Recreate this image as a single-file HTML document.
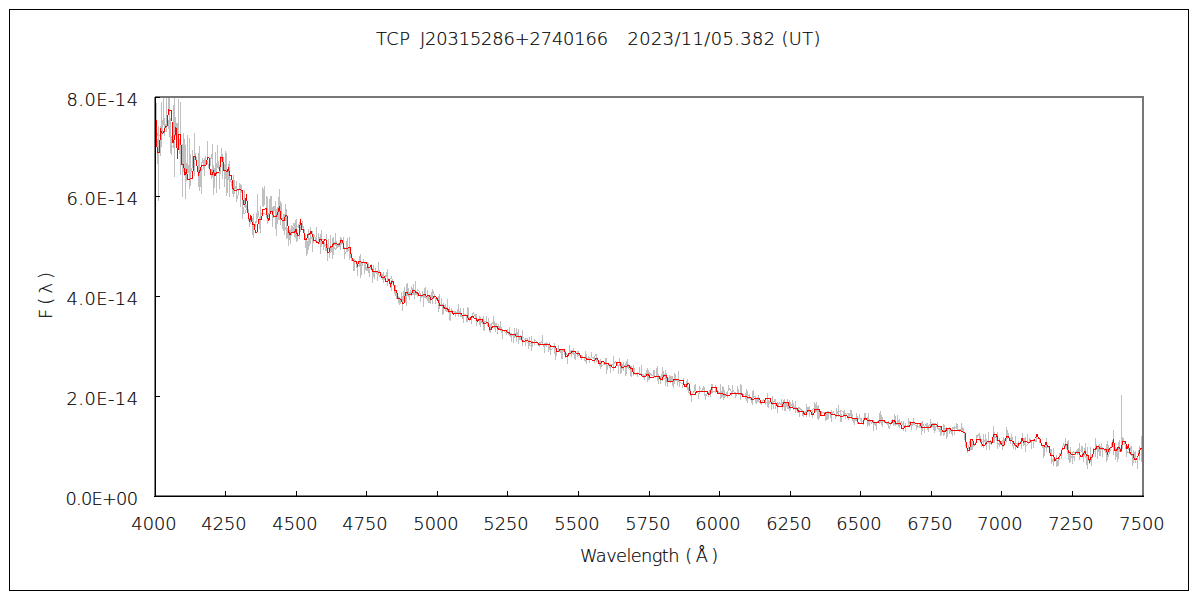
<!DOCTYPE html>
<html><head><meta charset="utf-8"><style>
html,body{margin:0;padding:0;background:#fff;}
svg{display:block;}
text{font-family:"DejaVu Sans","Noto Sans CJK JP",sans-serif;font-weight:200;font-size:17.8px;fill:#000;stroke:#000;stroke-width:0.2px;white-space:pre;}
</style></head><body>
<svg width="1200" height="600" viewBox="0 0 1200 600">
<rect x="0" y="0" width="1200" height="600" fill="#fff"/>
<rect x="9.5" y="9.5" width="1179" height="581" fill="none" stroke="#000" stroke-width="1"/>
<defs><clipPath id="pc"><rect x="155" y="97" width="988" height="399"/></clipPath></defs>
<g clip-path="url(#pc)" fill="none" shape-rendering="crispEdges">
<path d="M155.5,124V169M156.5,103V146M157.5,139V164M158.5,126V201M160.5,126V156M161.5,102V147M162.5,120V134M163.5,97V125M164.5,118V136M166.5,97V132M168.5,97V115M169.5,97V131M170.5,118V153M171.5,136V155M173.5,105V148M174.5,97V177M175.5,122V136M177.5,123V150M178.5,99V142M179.5,139V154M180.5,102V175M182.5,144V197M183.5,133V172M184.5,139V176M185.5,145V199M186.5,167V181M187.5,135V173M189.5,138V189M190.5,154V186M192.5,150V166M194.5,133V176M195.5,157V159M198.5,153V187M199.5,146V191M200.5,173V187M201.5,162V194M202.5,158V163M203.5,160V168M204.5,158V176M205.5,156V165M207.5,141V160M211.5,169V179M212.5,144V177M213.5,165V195M214.5,168V188M215.5,152V174M216.5,163V193M217.5,145V168M218.5,161V169M219.5,168V189M220.5,166V174M221.5,148V162M222.5,158V179M223.5,159V163M224.5,167V187M225.5,151V176M226.5,153V196M227.5,171V193M228.5,164V180M229.5,161V197M233.5,175V194M234.5,180V191M236.5,181V202M239.5,183V188M240.5,184V207M241.5,186V192M242.5,201V219M244.5,190V207M245.5,199V208M249.5,218V224M250.5,217V221M252.5,218V235M253.5,214V238M256.5,219V223M257.5,194V219M259.5,217V229M260.5,206V233M262.5,187V206M263.5,189V207M264.5,186V205M266.5,196V217M267.5,197V224M269.5,199V216M270.5,196V211M271.5,196V211M272.5,207V227M273.5,206V218M274.5,206V211M275.5,201V229M276.5,209V236M277.5,207V224M278.5,197V220M279.5,189V220M280.5,202V225M281.5,203V217M282.5,217V229M283.5,214V231M284.5,214V235M285.5,204V221M286.5,209V239M287.5,228V238M288.5,230V246M289.5,230V240M290.5,229V244M291.5,225V234M293.5,227V232M294.5,223V237M295.5,220V238M296.5,219V242M297.5,232V241M298.5,224V228M299.5,222V239M300.5,224V232M301.5,223V226M302.5,221V228M305.5,237V248M306.5,239V256M307.5,241V254M308.5,229V250M309.5,238V246M310.5,227V244M311.5,237V239M312.5,231V252M313.5,235V243M315.5,238V242M316.5,227V242M318.5,233V241M319.5,237V242M320.5,234V254M321.5,230V247M322.5,242V244M323.5,240V250M324.5,244V246M325.5,244V246M326.5,234V251M327.5,246V261M328.5,239V249M329.5,247V258M330.5,235V253M331.5,246V252M332.5,238V259M333.5,237V255M334.5,242V245M335.5,233V246M336.5,241V249M337.5,244V247M338.5,243V246M339.5,242V245M340.5,237V250M341.5,238V245M343.5,237V247M344.5,251V259M345.5,252V253M346.5,241V248M347.5,238V252M349.5,237V260M350.5,250V257M351.5,253V260M353.5,259V271M354.5,259V271M356.5,261V268M357.5,262V276M359.5,256V267M360.5,254V278M361.5,262V275M362.5,264V266M364.5,262V274M365.5,263V270M366.5,267V271M367.5,262V271M368.5,263V273M369.5,269V277M371.5,266V269M372.5,269V283M373.5,265V274M374.5,272V279M375.5,272V273M377.5,272V281M378.5,262V275M379.5,275V277M380.5,275V277M382.5,274V279M383.5,272V280M386.5,272V277M387.5,269V286M388.5,279V280M390.5,282V288M391.5,280V291M393.5,281V285M394.5,286V294M395.5,285V296M396.5,293V299M397.5,293V299M398.5,296V303M399.5,297V305M400.5,298V304M401.5,292V301M402.5,296V311M403.5,291V302M404.5,287V302M405.5,294V302M406.5,284V306M407.5,283V296M408.5,288V294M409.5,292V294M410.5,292V293M411.5,291V296M412.5,288V295M413.5,284V295M414.5,290V299M415.5,281V293M416.5,293V295M417.5,293V297M420.5,295V302M422.5,291V297M423.5,294V307M424.5,288V298M425.5,287V297M427.5,290V301M428.5,296V303M429.5,298V303M430.5,295V304M431.5,292V298M432.5,289V304M433.5,296V299M435.5,298V304M438.5,296V312M439.5,294V309M441.5,298V305M442.5,305V315M443.5,303V314M445.5,304V308M446.5,307V312M447.5,299V312M449.5,307V320M450.5,312V321M451.5,308V313M454.5,312V314M455.5,311V317M457.5,309V314M458.5,304V317M459.5,312V314M460.5,308V317M462.5,315V319M463.5,308V323M466.5,315V322M467.5,307V322M468.5,308V319M469.5,317V319M471.5,317V324M472.5,313V318M473.5,317V318M475.5,314V319M476.5,314V326M477.5,319V320M479.5,316V325M480.5,317V327M481.5,320V323M482.5,318V324M483.5,316V330M484.5,321V331M486.5,316V324M487.5,322V325M488.5,318V326M489.5,326V332M490.5,325V333M491.5,325V330M493.5,316V325M494.5,321V329M495.5,323V332M496.5,323V328M497.5,328V334M498.5,324V329M499.5,326V330M500.5,321V331M501.5,327V333M502.5,329V339M506.5,330V335M507.5,329V332M509.5,327V334M510.5,333V335M511.5,333V342M513.5,334V343M514.5,328V338M515.5,333V337M516.5,328V342M517.5,332V337M518.5,329V344M519.5,336V340M520.5,335V339M522.5,330V346M523.5,337V338M525.5,338V346M526.5,340V342M527.5,342V343M528.5,341V349M529.5,337V344M530.5,343V344M531.5,336V351M532.5,341V347M534.5,339V345M535.5,340V341M538.5,343V346M539.5,342V347M540.5,345V345M542.5,335V345M543.5,344V347M544.5,343V353M545.5,344V346M546.5,342V347M548.5,345V352M549.5,342V348M550.5,347V355M554.5,343V354M555.5,351V360M556.5,349V356M558.5,345V351M560.5,350V353M561.5,349V359M562.5,350V359M563.5,350V352M564.5,349V355M565.5,353V358M567.5,354V364M569.5,345V352M570.5,350V353M571.5,350V357M572.5,350V351M573.5,348V353M574.5,353V359M575.5,353V360M577.5,351V357M578.5,351V356M579.5,354V356M581.5,356V360M584.5,357V361M585.5,351V359M586.5,354V364M588.5,356V358M589.5,357V363M591.5,352V358M594.5,357V363M596.5,354V362M597.5,359V362M599.5,361V364M600.5,359V369M601.5,362V366M603.5,361V363M605.5,358V363M606.5,358V374M607.5,366V370M609.5,366V368M610.5,365V373M613.5,356V371M616.5,363V364M617.5,362V365M618.5,365V374M619.5,358V366M620.5,366V374M621.5,363V373M622.5,365V369M623.5,362V371M625.5,363V376M626.5,361V374M627.5,359V368M628.5,364V369M630.5,366V376M631.5,366V377M633.5,365V376M634.5,368V373M637.5,372V377M639.5,367V374M641.5,365V375M642.5,374V377M643.5,374V377M644.5,375V380M645.5,373V377M646.5,370V376M647.5,368V382M648.5,370V380M649.5,372V380M653.5,370V377M654.5,370V377M656.5,368V376M657.5,366V381M658.5,375V384M660.5,376V384M661.5,374V376M662.5,367V381M663.5,371V375M664.5,374V377M665.5,370V386M666.5,373V382M667.5,377V387M668.5,378V381M669.5,375V382M670.5,376V383M671.5,376V381M672.5,376V386M673.5,380V388M674.5,373V384M675.5,374V381M676.5,380V381M677.5,380V386M678.5,371V380M679.5,380V387M682.5,385V388M683.5,378V385M684.5,384V386M686.5,381V385M687.5,379V389M688.5,387V393M689.5,392V394M690.5,389V396M691.5,394V402M694.5,385V392M695.5,384V391M698.5,393V399M699.5,386V394M700.5,388V389M704.5,387V396M705.5,394V400M706.5,394V396M708.5,393V397M709.5,390V394M710.5,389V397M711.5,384V393M712.5,384V393M715.5,385V392M718.5,391V394M720.5,384V399M721.5,393V398M722.5,386V396M723.5,387V400M724.5,390V397M725.5,394V397M726.5,393V396M727.5,391V398M728.5,385V390M731.5,391V396M732.5,385V394M735.5,392V398M736.5,393V396M737.5,386V394M738.5,389V395M740.5,384V400M741.5,385V394M743.5,395V397M745.5,393V396M746.5,389V401M747.5,391V403M748.5,397V399M749.5,394V399M751.5,397V401M752.5,391V405M753.5,390V398M755.5,397V403M756.5,398V404M757.5,397V401M758.5,395V402M759.5,401V403M760.5,402V404M765.5,399V405M766.5,399V399M767.5,393V407M768.5,400V408M769.5,401V404M771.5,403V410M772.5,396V405M773.5,401V409M774.5,399V402M775.5,399V409M777.5,402V413M781.5,399V407M782.5,403V410M783.5,401V407M784.5,399V411M785.5,402V411M786.5,403V407M787.5,399V409M788.5,405V409M789.5,400V407M790.5,402V410M792.5,400V408M793.5,403V410M795.5,401V413M798.5,407V413M799.5,410V417M801.5,409V411M802.5,410V416M803.5,411V414M806.5,404V417M807.5,407V412M808.5,407V412M809.5,406V417M812.5,410V418M814.5,402V411M815.5,404V412M816.5,402V411M817.5,406V419M818.5,405V420M819.5,411V418M820.5,413V413M821.5,411V416M825.5,413V421M826.5,413V420M827.5,411V420M828.5,411V419M830.5,412V418M831.5,410V422M835.5,414V419M836.5,408V417M837.5,411V412M838.5,405V417M840.5,411V422M841.5,414V422M843.5,413V417M844.5,410V415M845.5,413V419M846.5,414V415M848.5,414V420M849.5,413V417M850.5,410V414M851.5,410V419M852.5,414V419M853.5,419V422M854.5,419V425M855.5,418V420M856.5,413V421M857.5,416V424M859.5,414V419M860.5,418V421M861.5,418V424M863.5,418V425M864.5,413V420M865.5,413V420M867.5,417V427M868.5,413V425M869.5,420V426M873.5,420V431M874.5,423V425M875.5,422V424M876.5,422V430M877.5,421V422M878.5,420V421M879.5,413V424M880.5,411V423M881.5,415V425M882.5,417V427M884.5,421V423M886.5,425V425M887.5,424V425M888.5,421V428M891.5,422V424M892.5,419V423M893.5,421V426M894.5,414V425M895.5,416V426M896.5,423V424M897.5,415V425M898.5,420V427M899.5,419V428M903.5,421V431M904.5,425V428M905.5,423V432M907.5,424V424M908.5,418V427M909.5,422V424M910.5,421V425M911.5,424V430M913.5,418V425M916.5,426V430M917.5,424V428M919.5,423V428M920.5,426V427M921.5,422V435M922.5,421V431M923.5,424V426M924.5,426V433M926.5,423V428M927.5,423V429M928.5,425V432M930.5,419V426M932.5,423V427M933.5,424V430M934.5,424V433M935.5,426V431M937.5,422V429M939.5,428V432M940.5,426V436M941.5,431V435M943.5,424V436M944.5,425V435M945.5,428V432M946.5,427V439M947.5,430V437M949.5,427V434M950.5,429V432M951.5,429V434M952.5,427V436M954.5,426V435M956.5,423V429M957.5,424V430M959.5,429V431M961.5,423V432M962.5,427V432M964.5,432V439M965.5,436V445M969.5,441V443M970.5,441V450M971.5,441V450M972.5,440V450M973.5,444V444M975.5,443V445M976.5,435V443M977.5,435V436M979.5,435V441M980.5,439V443M981.5,442V447M983.5,434V448M984.5,440V442M985.5,434V444M986.5,439V450M988.5,432V443M989.5,441V450M990.5,440V444M991.5,443V445M992.5,438V441M993.5,426V443M994.5,432V443M996.5,438V441M997.5,432V449M999.5,438V446M1002.5,441V450M1003.5,437V447M1004.5,439V446M1005.5,438V440M1006.5,427V442M1007.5,430V437M1008.5,433V438M1010.5,438V444M1011.5,434V441M1012.5,437V442M1015.5,436V450M1017.5,443V445M1018.5,441V448M1021.5,442V449M1022.5,433V441M1023.5,438V446M1024.5,438V442M1025.5,437V452M1027.5,434V443M1029.5,438V441M1030.5,439V443M1031.5,440V449M1033.5,439V448M1036.5,437V442M1039.5,439V443M1043.5,446V458M1044.5,448V456M1046.5,438V452M1047.5,445V448M1051.5,449V464M1053.5,448V466M1056.5,455V467M1057.5,461V466M1058.5,459V466M1059.5,453V460M1061.5,451V459M1065.5,438V446M1066.5,445V449M1067.5,441V454M1068.5,440V460M1069.5,451V463M1070.5,447V462M1072.5,452V464M1073.5,456V458M1074.5,456V461M1077.5,450V455M1078.5,448V454M1079.5,443V460M1081.5,446V452M1082.5,446V454M1083.5,452V462M1084.5,448V454M1085.5,443V455M1086.5,456V465M1087.5,447V469M1090.5,447V458M1091.5,455V466M1093.5,448V452M1095.5,438V457M1096.5,444V449M1097.5,448V459M1098.5,447V452M1099.5,445V456M1100.5,447V456M1101.5,443V450M1102.5,447V457M1105.5,448V451M1106.5,444V462M1107.5,441V460M1108.5,445V453M1111.5,443V446M1112.5,440V442M1113.5,436V445M1115.5,448V460M1116.5,450V457M1117.5,450V462M1118.5,442V459M1119.5,440V452M1122.5,437V449M1126.5,448V457M1127.5,447V449M1128.5,445V450M1130.5,447V451M1131.5,446V456M1132.5,454V466M1133.5,450V463M1134.5,452V460M1135.5,451V463M1137.5,457V469M1139.5,446V460M1141.5,448V458M1142.5,447V452M1121.5,395V452M1113.5,430V455M1141.5,436V462M155.5,127.6 L157.5,135.5 L159.5,135.7 L161.5,133.8 L163.5,117.4 L165.5,126.8 L167.5,114.9 L169.5,133.2 L171.5,146.1 L173.5,146.1 L175.5,117.1 L177.5,137.8 L179.5,148.7 L181.5,154.3 L183.5,169.2 L185.5,171.1 L187.5,160.7 L189.5,177.3 L191.5,169.9 L193.5,162.0 L195.5,153.0 L197.5,170.4 L199.5,172.8 L201.5,171.1 L203.5,168.0 L205.5,161.9 L207.5,162.0 L209.5,169.9 L211.5,154.2 L213.5,173.3 L215.5,168.6 L217.5,163.6 L219.5,169.4 L221.5,151.9 L223.5,159.3 L225.5,178.2 L227.5,180.5 L229.5,177.8 L231.5,182.6 L233.5,197.2 L235.5,185.7 L237.5,198.6 L239.5,186.0 L241.5,185.4 L243.5,213.5 L245.5,212.9 L247.5,202.5 L249.5,226.5 L251.5,216.9 L253.5,231.0 L255.5,225.4 L257.5,208.3 L259.5,219.5 L261.5,213.5 L263.5,213.1 L265.5,214.2 L267.5,218.8 L269.5,211.4 L271.5,207.4 L273.5,206.7 L275.5,212.3 L277.5,216.1 L279.5,195.5 L281.5,216.2 L283.5,220.3 L285.5,229.6 L287.5,231.4 L289.5,230.6 L291.5,235.0 L293.5,223.2 L295.5,222.9 L297.5,226.6 L299.5,227.6 L301.5,227.6 L303.5,226.6 L305.5,237.5 L307.5,244.1 L309.5,240.2 L311.5,238.8 L313.5,234.6 L315.5,238.2 L317.5,241.8 L319.5,243.1 L321.5,238.8 L323.5,239.9 L325.5,249.7 L327.5,245.1 L329.5,250.5 L331.5,247.2 L333.5,247.0 L335.5,249.3 L337.5,246.8 L339.5,246.1 L341.5,240.2 L343.5,245.3 L345.5,254.1 L347.5,246.1 L349.5,252.0 L351.5,260.1 L353.5,259.9 L355.5,260.4 L357.5,266.0 L359.5,265.4 L361.5,265.8 L363.5,260.6 L365.5,268.6 L367.5,268.3 L369.5,270.2 L371.5,265.4 L373.5,275.2 L375.5,269.7 L377.5,274.8 L379.5,270.7 L381.5,275.8 L383.5,281.7 L385.5,276.0 L387.5,277.2 L389.5,279.9 L391.5,277.0 L393.5,284.4 L395.5,291.9 L397.5,296.4 L399.5,298.7 L401.5,297.6 L403.5,296.3 L405.5,294.9 L407.5,292.7 L409.5,298.1 L411.5,287.7 L413.5,293.2 L415.5,294.6 L417.5,289.7 L419.5,291.8 L421.5,297.2 L423.5,295.0 L425.5,296.8 L427.5,299.2 L429.5,297.0 L431.5,295.5 L433.5,292.1 L435.5,299.6 L437.5,299.0 L439.5,304.0 L441.5,305.4 L443.5,303.3 L445.5,310.5 L447.5,310.9 L449.5,313.4 L451.5,310.3 L453.5,312.0 L455.5,311.9 L457.5,312.2 L459.5,311.4 L461.5,316.6 L463.5,314.8 L465.5,314.5 L467.5,315.8 L469.5,320.3 L471.5,317.9 L473.5,312.8 L475.5,317.4 L477.5,319.2 L479.5,321.9 L481.5,320.4 L483.5,321.3 L485.5,321.3 L487.5,325.2 L489.5,325.6 L491.5,324.1 L493.5,321.9 L495.5,327.2 L497.5,327.5 L499.5,326.7 L501.5,332.0 L503.5,330.7 L505.5,332.6 L507.5,332.7 L509.5,335.2 L511.5,336.7 L513.5,334.3 L515.5,335.5 L517.5,333.7 L519.5,339.0 L521.5,340.3 L523.5,340.1 L525.5,339.2 L527.5,338.6 L529.5,345.6 L531.5,344.9 L533.5,342.5 L535.5,340.6 L537.5,343.4 L539.5,345.4 L541.5,341.7 L543.5,345.9 L545.5,343.1 L547.5,343.2 L549.5,349.9 L551.5,349.4 L553.5,347.8 L555.5,349.1 L557.5,351.9 L559.5,352.0 L561.5,350.9 L563.5,349.6 L565.5,352.1 L567.5,355.3 L569.5,351.9 L571.5,352.0 L573.5,354.0 L575.5,352.6 L577.5,353.7 L579.5,355.4 L581.5,355.9 L583.5,357.1 L585.5,361.5 L587.5,358.4 L589.5,359.5 L591.5,357.2 L593.5,358.1 L595.5,355.0 L597.5,359.7 L599.5,365.1 L601.5,366.7 L603.5,364.7 L605.5,364.4 L607.5,366.1 L609.5,365.0 L611.5,364.5 L613.5,364.4 L615.5,361.9 L617.5,365.7 L619.5,364.5 L621.5,364.0 L623.5,365.7 L625.5,364.6 L627.5,365.2 L629.5,369.9 L631.5,369.7 L633.5,372.9 L635.5,374.7 L637.5,375.1 L639.5,372.0 L641.5,374.8 L643.5,377.1 L645.5,376.3 L647.5,375.4 L649.5,372.5 L651.5,375.2 L653.5,376.5 L655.5,377.1 L657.5,372.7 L659.5,378.8 L661.5,376.9 L663.5,377.4 L665.5,379.5 L667.5,383.0 L669.5,377.1 L671.5,376.9 L673.5,382.1 L675.5,380.1 L677.5,379.1 L679.5,382.8 L681.5,383.1 L683.5,383.6 L685.5,385.0 L687.5,388.4 L689.5,393.0 L691.5,396.4 L693.5,391.6 L695.5,390.4 L697.5,392.1 L699.5,391.0 L701.5,391.6 L703.5,387.5 L705.5,397.1 L707.5,392.6 L709.5,392.2 L711.5,391.7 L713.5,391.5 L715.5,392.0 L717.5,390.3 L719.5,393.2 L721.5,391.4 L723.5,398.4 L725.5,394.5 L727.5,391.9 L729.5,388.9 L731.5,391.5 L733.5,391.0 L735.5,395.4 L737.5,393.3 L739.5,394.1 L741.5,392.3 L743.5,394.9 L745.5,398.0 L747.5,394.9 L749.5,395.5 L751.5,401.3 L753.5,395.9 L755.5,396.8 L757.5,401.1 L759.5,401.2 L761.5,403.7 L763.5,399.5 L765.5,402.2 L767.5,402.1 L769.5,401.1 L771.5,402.9 L773.5,401.3 L775.5,402.0 L777.5,407.0 L779.5,402.5 L781.5,405.9 L783.5,400.4 L785.5,402.7 L787.5,402.8 L789.5,409.7 L791.5,405.2 L793.5,408.9 L795.5,404.9 L797.5,411.9 L799.5,407.8 L801.5,410.9 L803.5,415.5 L805.5,411.5 L807.5,410.6 L809.5,412.7 L811.5,410.5 L813.5,408.5 L815.5,411.6 L817.5,411.7 L819.5,413.6 L821.5,411.7 L823.5,412.7 L825.5,413.2 L827.5,415.0 L829.5,413.3 L831.5,414.1 L833.5,411.4 L835.5,416.3 L837.5,413.0 L839.5,411.5 L841.5,410.6 L843.5,412.1 L845.5,415.8 L847.5,413.6 L849.5,414.2 L851.5,416.1 L853.5,422.1 L855.5,420.0 L857.5,419.6 L859.5,418.2 L861.5,421.8 L863.5,420.9 L865.5,419.5 L867.5,417.8 L869.5,419.3 L871.5,423.3 L873.5,422.1 L875.5,424.8 L877.5,421.7 L879.5,419.3 L881.5,420.2 L883.5,421.1 L885.5,421.8 L887.5,424.2 L889.5,428.1 L891.5,420.9 L893.5,421.0 L895.5,424.8 L897.5,423.4 L899.5,422.3 L901.5,422.0 L903.5,425.9 L905.5,426.7 L907.5,426.3 L909.5,422.2 L911.5,426.5 L913.5,422.3 L915.5,425.5 L917.5,426.3 L919.5,427.2 L921.5,427.6 L923.5,427.7 L925.5,425.2 L927.5,429.0 L929.5,424.6 L931.5,422.7 L933.5,423.6 L935.5,423.9 L937.5,427.8 L939.5,430.0 L941.5,430.2 L943.5,431.3 L945.5,431.8 L947.5,430.0 L949.5,427.6 L951.5,430.1 L953.5,428.0 L955.5,427.8 L957.5,428.2 L959.5,430.8 L961.5,428.2 L963.5,428.9 L965.5,443.8 L967.5,450.8 L969.5,443.1 L971.5,443.6 L973.5,446.1 L975.5,444.6 L977.5,435.8 L979.5,434.1 L981.5,441.2 L983.5,441.4 L985.5,441.9 L987.5,441.2 L989.5,442.0 L991.5,442.9 L993.5,436.9 L995.5,436.1 L997.5,441.9 L999.5,446.1 L1001.5,441.6 L1003.5,439.1 L1005.5,439.7 L1007.5,438.0 L1009.5,437.6 L1011.5,439.3 L1013.5,447.5 L1015.5,442.5 L1017.5,444.2 L1019.5,444.5 L1021.5,439.5 L1023.5,440.4 L1025.5,446.0 L1027.5,444.5 L1029.5,441.9 L1031.5,441.3 L1033.5,440.1 L1035.5,441.0 L1037.5,438.2 L1039.5,439.0 L1041.5,444.8 L1043.5,449.4 L1045.5,446.9 L1047.5,447.5 L1049.5,446.5 L1051.5,458.3 L1053.5,462.7 L1055.5,460.5 L1057.5,461.0 L1059.5,456.9 L1061.5,452.3 L1063.5,444.0 L1065.5,446.6 L1067.5,447.1 L1069.5,455.2 L1071.5,457.3 L1073.5,451.6 L1075.5,453.8 L1077.5,449.2 L1079.5,450.7 L1081.5,450.5 L1083.5,452.6 L1085.5,457.0 L1087.5,454.2 L1089.5,463.2 L1091.5,459.4 L1093.5,452.8 L1095.5,450.2 L1097.5,447.9 L1099.5,444.8 L1101.5,448.7 L1103.5,449.3 L1105.5,451.5 L1107.5,458.3 L1109.5,452.2 L1111.5,445.9 L1113.5,443.2 L1115.5,448.3 L1117.5,447.8 L1119.5,450.3 L1121.5,446.9 L1123.5,438.6 L1125.5,447.5 L1127.5,452.4 L1129.5,453.2 L1131.5,454.8 L1133.5,454.7 L1135.5,459.0 L1137.5,459.4 L1139.5,447.6 L1141.5,449.7" stroke="#c0c0c0" stroke-width="1"/>
</g>
<path d="M156.5,119.5 L156.5,140.5 L157.5,152.5 L159.5,152.5 L160.5,128.5 L161.0,131.5 L162.5,133.5 L164.0,131.5 L165.5,126.5 L167.0,126.5 L168.5,109.5 L170.0,110.5 L171.5,110.5 L173.0,142.5 L174.5,138.5 L176.0,127.5 L177.5,158.5 L179.0,134.5 L180.5,134.5 L182.0,164.5 L183.5,164.5 L185.0,174.5 L186.5,170.5 L188.0,179.5 L189.5,179.5 L191.0,178.5 L192.5,178.5 L194.0,156.5 L195.5,156.5 L197.0,165.5 L198.5,174.5 L200.0,170.5 L201.5,165.5 L203.0,165.5 L204.5,165.5 L206.0,165.5 L207.5,157.5 L209.0,157.5 L210.5,174.5 L212.0,174.5 L213.5,171.5 L215.0,175.5 L216.5,172.5 L218.0,172.5 L219.5,171.5 L221.0,157.5 L222.5,157.5 L224.0,170.5 L225.5,170.5 L227.0,171.5 L228.5,168.5 L230.0,175.5 L231.5,175.5 L233.0,188.5 L234.5,190.5 L236.0,190.5 L237.5,189.5 L239.0,189.5 L240.5,189.5 L242.0,190.5 L243.5,204.5 L245.0,204.5 L246.5,194.5 L248.0,212.5 L249.5,221.5 L251.0,215.5 L252.5,224.5 L254.0,224.5 L255.5,232.5 L257.0,232.5 L258.5,219.5 L260.0,219.5 L261.5,219.5 L263.0,209.5 L264.5,209.5 L266.0,208.5 L267.5,217.5 L269.0,220.5 L270.5,211.5 L272.0,211.5 L273.5,216.5 L275.0,216.5 L276.5,216.5 L278.0,212.5 L279.5,206.5 L281.0,218.5 L282.5,220.5 L284.0,220.5 L285.5,215.5 L287.0,215.5 L288.5,231.5 L290.0,234.5 L291.5,232.5 L293.0,232.5 L294.5,232.5 L296.0,229.5 L297.5,235.5 L299.0,235.5 L300.5,219.5 L302.0,229.5 L303.5,229.5 L305.0,239.5 L306.5,239.5 L308.0,234.5 L309.5,234.5 L311.0,231.5 L312.5,235.5 L314.0,240.5 L315.5,240.5 L317.0,242.5 L318.5,243.5 L320.0,239.5 L321.5,239.5 L323.0,243.5 L324.5,239.5 L326.0,239.5 L327.5,252.5 L329.0,252.5 L330.5,246.5 L332.0,246.5 L333.5,243.5 L335.0,243.5 L336.5,243.5 L338.0,244.5 L339.5,244.5 L341.0,240.5 L342.5,240.5 L344.0,248.5 L345.5,248.5 L347.0,248.5 L348.5,247.5 L350.0,247.5 L351.5,256.5 L353.0,260.5 L354.5,261.5 L356.0,261.5 L357.5,265.5 L359.0,261.5 L360.5,261.5 L362.0,262.5 L363.5,262.5 L365.0,262.5 L366.5,262.5 L368.0,267.5 L369.5,267.5 L371.0,265.5 L372.5,271.5 L374.0,271.5 L375.5,271.5 L377.0,271.5 L378.5,272.5 L380.0,272.5 L381.5,277.5 L383.0,277.5 L384.5,276.5 L386.0,281.5 L387.5,281.5 L389.0,279.5 L390.5,285.5 L392.0,281.5 L393.5,281.5 L395.0,290.5 L396.5,290.5 L398.0,298.5 L399.5,298.5 L401.0,299.5 L402.5,303.5 L404.0,303.5 L405.5,292.5 L407.0,292.5 L408.5,294.5 L410.0,294.5 L411.5,294.5 L413.0,290.5 L414.5,290.5 L416.0,292.5 L417.5,292.5 L419.0,295.5 L420.5,295.5 L422.0,295.5 L423.5,294.5 L425.0,294.5 L426.5,296.5 L428.0,295.5 L429.5,295.5 L431.0,299.5 L432.5,298.5 L434.0,296.5 L435.5,296.5 L437.0,298.5 L438.5,301.5 L440.0,305.5 L441.5,305.5 L443.0,305.5 L444.5,308.5 L446.0,308.5 L447.5,308.5 L449.0,311.5 L450.5,311.5 L452.0,311.5 L453.5,314.5 L455.0,313.5 L456.5,313.5 L458.0,313.5 L459.5,313.5 L461.0,313.5 L462.5,315.5 L464.0,315.5 L465.5,315.5 L467.0,315.5 L468.5,319.5 L470.0,319.5 L471.5,316.5 L473.0,316.5 L474.5,318.5 L476.0,318.5 L477.5,321.5 L479.0,319.5 L480.5,319.5 L482.0,319.5 L483.5,323.5 L485.0,323.5 L486.5,322.5 L488.0,322.5 L489.5,329.5 L491.0,329.5 L492.5,326.5 L494.0,326.5 L495.5,326.5 L497.0,326.5 L498.5,329.5 L500.0,329.5 L501.5,329.5 L503.0,330.5 L504.5,330.5 L506.0,330.5 L507.5,332.5 L509.0,332.5 L510.5,334.5 L512.0,334.5 L513.5,334.5 L515.0,334.5 L516.5,336.5 L518.0,336.5 L519.5,336.5 L521.0,336.5 L522.5,341.5 L524.0,341.5 L525.5,340.5 L527.0,340.5 L528.5,341.5 L530.0,341.5 L531.5,342.5 L533.0,342.5 L534.5,342.5 L536.0,342.5 L537.5,342.5 L539.0,344.5 L540.5,344.5 L542.0,344.5 L543.5,344.5 L545.0,344.5 L546.5,344.5 L548.0,344.5 L549.5,344.5 L551.0,346.5 L552.5,346.5 L554.0,346.5 L555.5,346.5 L557.0,351.5 L558.5,351.5 L560.0,349.5 L561.5,349.5 L563.0,349.5 L564.5,349.5 L566.0,356.5 L567.5,356.5 L569.0,353.5 L570.5,353.5 L572.0,351.5 L573.5,351.5 L575.0,351.5 L576.5,353.5 L578.0,353.5 L579.5,353.5 L581.0,357.5 L582.5,357.5 L584.0,357.5 L585.5,357.5 L587.0,359.5 L588.5,359.5 L590.0,359.5 L591.5,359.5 L593.0,360.5 L594.5,360.5 L596.0,358.5 L597.5,358.5 L599.0,363.5 L600.5,363.5 L602.0,361.5 L603.5,361.5 L605.0,363.5 L606.5,363.5 L608.0,363.5 L609.5,365.5 L611.0,365.5 L612.5,367.5 L614.0,367.5 L615.5,367.5 L617.0,362.5 L618.5,362.5 L620.0,362.5 L621.5,367.5 L623.0,367.5 L624.5,366.5 L626.0,366.5 L627.5,365.5 L629.0,365.5 L630.5,368.5 L632.0,368.5 L633.5,373.5 L635.0,373.5 L636.5,373.5 L638.0,373.5 L639.5,374.5 L641.0,374.5 L642.5,376.5 L644.0,376.5 L645.5,376.5 L647.0,374.5 L648.5,374.5 L650.0,377.5 L651.5,377.5 L653.0,377.5 L654.5,376.5 L656.0,376.5 L657.5,376.5 L659.0,376.5 L660.5,379.5 L662.0,379.5 L663.5,375.5 L665.0,375.5 L666.5,375.5 L668.0,381.5 L669.5,381.5 L671.0,381.5 L672.5,381.5 L674.0,379.5 L675.5,379.5 L677.0,379.5 L678.5,379.5 L680.0,380.5 L681.5,380.5 L683.0,380.5 L684.5,386.5 L686.0,386.5 L687.5,383.5 L689.0,383.5 L690.5,394.5 L692.0,394.5 L693.5,394.5 L695.0,394.5 L696.5,391.5 L698.0,391.5 L699.5,391.5 L701.0,391.5 L702.5,391.5 L704.0,391.5 L705.5,391.5 L707.0,391.5 L708.5,394.5 L710.0,394.5 L711.5,387.5 L713.0,387.5 L714.5,387.5 L716.0,387.5 L717.5,393.5 L719.0,393.5 L720.5,393.5 L722.0,393.5 L723.5,394.5 L725.0,394.5 L726.5,395.5 L728.0,395.5 L729.5,395.5 L731.0,393.5 L732.5,393.5 L734.0,393.5 L735.5,393.5 L737.0,393.5 L738.5,393.5 L740.0,393.5 L741.5,393.5 L743.0,396.5 L744.5,396.5 L746.0,396.5 L747.5,397.5 L749.0,397.5 L750.5,397.5 L752.0,399.5 L753.5,399.5 L755.0,398.5 L756.5,398.5 L758.0,398.5 L759.5,398.5 L761.0,402.5 L762.5,402.5 L764.0,402.5 L765.5,398.5 L767.0,398.5 L768.5,398.5 L770.0,398.5 L771.5,403.5 L773.0,403.5 L774.5,403.5 L776.0,403.5 L777.5,406.5 L779.0,406.5 L780.5,406.5 L782.0,406.5 L783.5,402.5 L785.0,402.5 L786.5,402.5 L788.0,402.5 L789.5,407.5 L791.0,407.5 L792.5,407.5 L794.0,408.5 L795.5,408.5 L797.0,408.5 L798.5,411.5 L800.0,411.5 L801.5,411.5 L803.0,411.5 L804.5,414.5 L806.0,414.5 L807.5,410.5 L809.0,410.5 L810.5,410.5 L812.0,414.5 L813.5,414.5 L815.0,409.5 L816.5,409.5 L818.0,409.5 L819.5,409.5 L821.0,415.5 L822.5,415.5 L824.0,415.5 L825.5,412.5 L827.0,412.5 L828.5,412.5 L830.0,412.5 L831.5,414.5 L833.0,414.5 L834.5,414.5 L836.0,415.5 L837.5,415.5 L839.0,415.5 L840.5,416.5 L842.0,416.5 L843.5,415.5 L845.0,415.5 L846.5,415.5 L848.0,417.5 L849.5,417.5 L851.0,417.5 L852.5,418.5 L854.0,418.5 L855.5,418.5 L857.0,418.5 L858.5,423.5 L860.0,423.5 L861.5,423.5 L863.0,423.5 L864.5,418.5 L866.0,418.5 L867.5,420.5 L869.0,420.5 L870.5,420.5 L872.0,420.5 L873.5,422.5 L875.0,422.5 L876.5,422.5 L878.0,422.5 L879.5,420.5 L881.0,420.5 L882.5,420.5 L884.0,420.5 L885.5,422.5 L887.0,422.5 L888.5,422.5 L890.0,423.5 L891.5,423.5 L893.0,420.5 L894.5,420.5 L896.0,423.5 L897.5,423.5 L899.0,423.5 L900.5,423.5 L902.0,428.5 L903.5,428.5 L905.0,426.5 L906.5,426.5 L908.0,426.5 L909.5,426.5 L911.0,422.5 L912.5,422.5 L914.0,422.5 L915.5,423.5 L917.0,423.5 L918.5,423.5 L920.0,423.5 L921.5,427.5 L923.0,427.5 L924.5,427.5 L926.0,427.5 L927.5,427.5 L929.0,427.5 L930.5,427.5 L932.0,424.5 L933.5,424.5 L935.0,424.5 L936.5,424.5 L938.0,426.5 L939.5,426.5 L941.0,426.5 L942.5,431.5 L944.0,431.5 L945.5,431.5 L947.0,428.5 L948.5,428.5 L950.0,428.5 L951.5,430.5 L953.0,430.5 L954.5,430.5 L956.0,430.5 L957.5,430.5 L959.0,430.5 L960.5,430.5 L962.0,431.5 L963.5,432.5 L965.0,432.5 L966.5,446.5 L968.0,450.5 L969.5,450.5 L971.0,439.5 L972.5,439.5 L974.0,444.5 L975.5,444.5 L977.0,439.5 L978.5,439.5 L980.0,439.5 L981.5,443.5 L983.0,445.5 L984.5,445.5 L986.0,443.5 L987.5,441.5 L989.0,441.5 L990.5,441.5 L992.0,443.5 L993.5,434.5 L995.0,434.5 L996.5,434.5 L998.0,440.5 L999.5,440.5 L1001.0,443.5 L1002.5,445.5 L1004.0,445.5 L1005.5,438.5 L1007.0,436.5 L1008.5,436.5 L1010.0,440.5 L1011.5,440.5 L1013.0,441.5 L1014.5,444.5 L1016.0,445.5 L1017.5,447.5 L1019.0,443.5 L1020.5,443.5 L1022.0,438.5 L1023.5,442.5 L1025.0,441.5 L1026.5,441.5 L1028.0,442.5 L1029.5,442.5 L1031.0,440.5 L1032.5,440.5 L1034.0,440.5 L1035.5,438.5 L1037.0,434.5 L1038.5,438.5 L1040.0,438.5 L1041.5,445.5 L1043.0,445.5 L1044.5,446.5 L1046.0,442.5 L1047.5,446.5 L1049.0,446.5 L1050.5,455.5 L1052.0,455.5 L1053.5,455.5 L1055.0,460.5 L1056.5,458.5 L1058.0,458.5 L1059.5,456.5 L1061.0,454.5 L1062.5,448.5 L1064.0,448.5 L1065.5,444.5 L1067.0,444.5 L1068.5,452.5 L1070.0,452.5 L1071.5,454.5 L1073.0,454.5 L1074.5,454.5 L1076.0,452.5 L1077.5,452.5 L1079.0,452.5 L1080.5,456.5 L1082.0,456.5 L1083.5,453.5 L1085.0,451.5 L1086.5,455.5 L1088.0,455.5 L1089.5,461.5 L1091.0,457.5 L1092.5,456.5 L1094.0,449.5 L1095.5,449.5 L1097.0,446.5 L1098.5,446.5 L1100.0,448.5 L1101.5,448.5 L1103.0,448.5 L1104.5,449.5 L1106.0,449.5 L1107.5,453.5 L1109.0,449.5 L1110.5,447.5 L1112.0,447.5 L1113.5,439.5 L1115.0,450.5 L1116.5,450.5 L1118.0,447.5 L1119.5,447.5 L1121.0,451.5 L1122.5,441.5 L1124.0,441.5 L1125.5,441.5 L1127.0,448.5 L1128.5,445.5 L1130.0,452.5 L1131.5,454.5 L1133.0,454.5 L1134.5,459.5 L1136.0,459.5 L1137.5,457.5 L1139.0,453.5 L1140.5,448.5 L1142.0,448.5 L1143.5,448.5" fill="none" stroke="#ff0000" stroke-width="1" shape-rendering="crispEdges"/>
<g fill="#000">
<rect x="155" y="96" width="989" height="2" fill="#777"/>
<rect x="1142" y="96" width="2" height="400" fill="#777"/>
<rect x="154" y="97" width="1" height="399" fill-opacity="0.5"/>
<rect x="155" y="97" width="1" height="400"/>
<rect x="155" y="495" width="989" height="1" fill-opacity="0.5"/>
<rect x="154" y="496" width="990" height="1"/>
<rect x="155" y="97" width="5" height="1"/>
<rect x="225" y="491" width="1" height="5"/><rect x="296" y="491" width="1" height="5"/><rect x="366" y="491" width="1" height="5"/><rect x="437" y="491" width="1" height="5"/><rect x="507" y="491" width="1" height="5"/><rect x="578" y="491" width="1" height="5"/><rect x="649" y="491" width="1" height="5"/><rect x="719" y="491" width="1" height="5"/><rect x="790" y="491" width="1" height="5"/><rect x="860" y="491" width="1" height="5"/><rect x="931" y="491" width="1" height="5"/><rect x="1001" y="491" width="1" height="5"/><rect x="1072" y="491" width="1" height="5"/><rect x="155" y="196" width="5" height="1"/><rect x="155" y="296" width="5" height="1"/><rect x="155" y="396" width="5" height="1"/>
</g>
<text x="376" y="45" textLength="34" lengthAdjust="spacing">TCP</text><text x="420" y="45" textLength="188" lengthAdjust="spacing">J20315286+2740166</text>
<text x="627.5" y="45" textLength="193" lengthAdjust="spacing">2023/11/05.382 (UT)</text>
<text x="138.0" y="106" text-anchor="end" textLength="71.5" lengthAdjust="spacing">8.0E-14</text><text x="138.0" y="205" text-anchor="end" textLength="71.5" lengthAdjust="spacing">6.0E-14</text><text x="138.0" y="305" text-anchor="end" textLength="71.5" lengthAdjust="spacing">4.0E-14</text><text x="138.0" y="405" text-anchor="end" textLength="71.5" lengthAdjust="spacing">2.0E-14</text><text x="138.0" y="505" text-anchor="end" textLength="72.5" lengthAdjust="spacing">0.0E+00</text>
<text x="154.0" y="530" text-anchor="middle">4000</text><text x="224.0" y="530" text-anchor="middle">4250</text><text x="295.0" y="530" text-anchor="middle">4500</text><text x="365.0" y="530" text-anchor="middle">4750</text><text x="436.0" y="530" text-anchor="middle">5000</text><text x="506.0" y="530" text-anchor="middle">5250</text><text x="577.0" y="530" text-anchor="middle">5500</text><text x="648.0" y="530" text-anchor="middle">5750</text><text x="718.0" y="530" text-anchor="middle">6000</text><text x="789.0" y="530" text-anchor="middle">6250</text><text x="859.0" y="530" text-anchor="middle">6500</text><text x="930.0" y="530" text-anchor="middle">6750</text><text x="1000.0" y="530" text-anchor="middle">7000</text><text x="1071.0" y="530" text-anchor="middle">7250</text><text x="1142.0" y="530" text-anchor="middle">7500</text>
<text x="580" y="562" textLength="99.5" lengthAdjust="spacing">Wavelength</text><text x="685.3" y="562" textLength="33" lengthAdjust="spacing">(Å)</text>
<text transform="translate(52,319) rotate(-90)" x="0" y="0" textLength="47" lengthAdjust="spacing">F(λ)</text>
</svg>
</body></html>
